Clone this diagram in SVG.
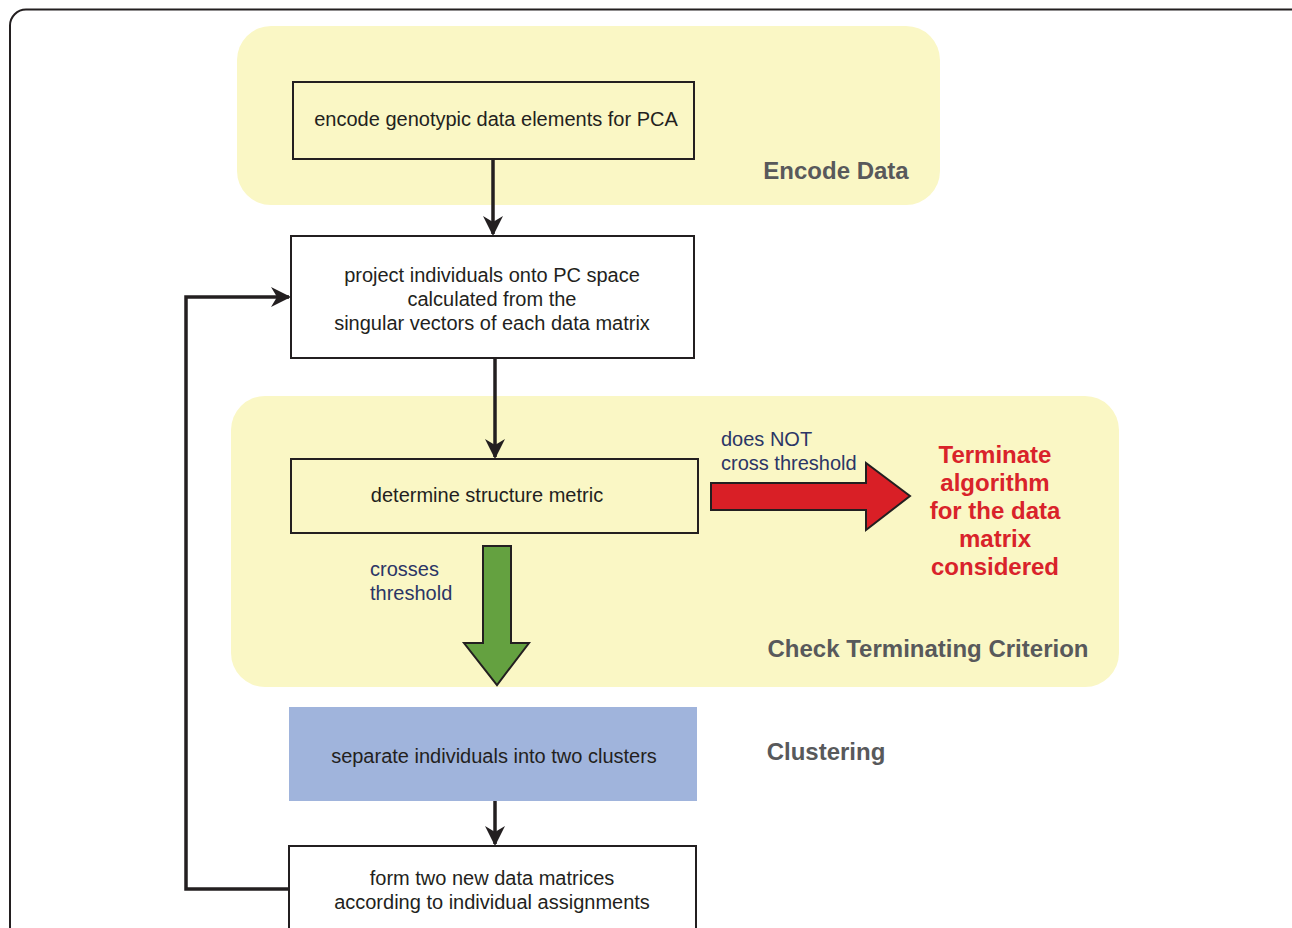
<svg xmlns="http://www.w3.org/2000/svg" width="1292" height="928" viewBox="0 0 1292 928">
<defs>
<style>
.panel{fill:#faf7c5;}
.box{stroke:#231f20;stroke-width:2;}
.t{font-family:"Liberation Sans",Arial,sans-serif;font-size:20px;fill:#231f20;text-anchor:middle;}
.lbl{font-family:"Liberation Sans",Arial,sans-serif;font-size:20px;fill:#2b3566;}
.sec{font-family:"Liberation Sans",Arial,sans-serif;font-size:24px;font-weight:bold;fill:#58595b;text-anchor:middle;}
.red{font-family:"Liberation Sans",Arial,sans-serif;font-size:24px;font-weight:bold;fill:#d9232a;text-anchor:middle;}
.conn{stroke:#231f20;stroke-width:3.5;fill:none;}
</style>
<marker id="ah2" markerWidth="20" markerHeight="20" viewBox="0 0 10 10" refX="9" refY="5" orient="auto" markerUnits="userSpaceOnUse">
<path d="M0,0 L10,5 L0,10 L3,5 Z" fill="#231f20"/>
</marker>
</defs>
<rect x="10" y="9.5" width="1300" height="940" rx="16" fill="#fff" stroke="#231f20" stroke-width="2"/>
<g id="encode-panel">
<rect class="panel" x="237" y="26" width="703" height="179" rx="34"/>
<text class="sec" x="836" y="179">Encode Data</text>
</g>
<g id="check-panel">
<rect class="panel" x="231" y="396" width="888" height="291" rx="34"/>
<text class="sec" x="928" y="657">Check Terminating Criterion</text>
</g>
<g id="clustering-label">
<text class="sec" x="826" y="760">Clustering</text>
</g>
<g id="encode">
<rect class="box" x="293" y="82" width="401" height="77" fill="#faf7c5"/>
<text class="t" x="496" y="126">encode genotypic data elements for PCA</text>
</g>
<g id="project">
<rect class="box" x="291" y="236" width="403" height="122" fill="#fff"/>
<text class="t" x="492" y="282">project individuals onto PC space</text>
<text class="t" x="492" y="306">calculated from the</text>
<text class="t" x="492" y="330">singular vectors of each data matrix</text>
</g>
<g id="metric">
<rect class="box" x="291" y="459" width="407" height="74" fill="#faf7c5"/>
<text class="t" x="487" y="502">determine structure metric</text>
</g>
<g id="terminate">
<text class="red" x="995" y="463">Terminate</text>
<text class="red" x="995" y="491">algorithm</text>
<text class="red" x="995" y="519">for the data</text>
<text class="red" x="995" y="547">matrix</text>
<text class="red" x="995" y="575">considered</text>
</g>
<g id="separate">
<rect x="289" y="707" width="408" height="94" fill="#a0b4dc"/>
<text class="t" x="494" y="763">separate individuals into two clusters</text>
</g>
<g id="form">
<rect class="box" x="289" y="846" width="407" height="100" fill="#fff"/>
<text class="t" x="492" y="885">form two new data matrices</text>
<text class="t" x="492" y="909">according to individual assignments</text>
</g>
<g id="connectors">
<line class="conn" x1="493" y1="159" x2="493" y2="234" marker-end="url(#ah2)"/>
<line class="conn" x1="495" y1="358" x2="495" y2="457" marker-end="url(#ah2)"/>
<line class="conn" x1="495" y1="801" x2="495" y2="844" marker-end="url(#ah2)"/>
<polyline class="conn" points="289,889 186,889 186,297 289,297" marker-end="url(#ah2)"/>
<path d="M711,483 L866,483 L866,463 L910,496 L866,530 L866,510 L711,510 Z" fill="#d91f26" stroke="#231f20" stroke-width="2"/>
<path d="M483,546 L511,546 L511,643 L529,643 L497,685 L464,643 L483,643 Z" fill="#64a140" stroke="#231f20" stroke-width="2"/>
<text class="lbl" x="721" y="446">does NOT</text>
<text class="lbl" x="721" y="470">cross threshold</text>
<text class="lbl" x="370" y="576">crosses</text>
<text class="lbl" x="370" y="600">threshold</text>
</g>
</svg>
